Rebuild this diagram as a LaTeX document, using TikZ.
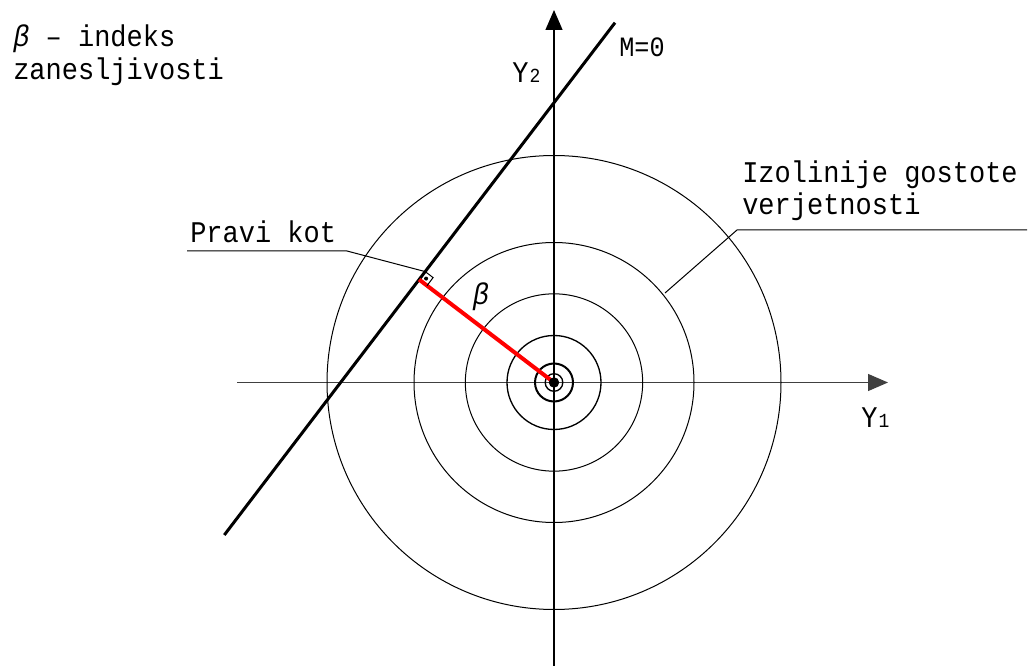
\documentclass[tikz,border=0pt]{standalone}
\usepackage{fontspec}
\setmainfont{Liberation Mono}
\usetikzlibrary{arrows.meta}
\newcommand{\narrowtxt}[1]{\scalebox{0.9}[1]{#1}}
\begin{document}
\begin{tikzpicture}[x=0.75pt,y=-0.75pt,
  lbl/.style={anchor=base west, inner sep=0pt, font=\fontsize{22.5}{26}\selectfont},
  axis/.style={line width=1pt, -{Triangle[length=15pt,width=12.75pt]}},
  iso/.style={line width=0.75pt},
  leader/.style={line width=0.75pt},
  limit/.style={line width=2.25pt},
  betaline/.style={line width=3pt, red}]
\useasboundingbox (0,0) rectangle (1032,666);
% named points
\coordinate (C) at (554,382.5);
\coordinate (Hl) at (237,382.5);
\coordinate (Hr) at (888,382.5);
\coordinate (Vb) at (554,666);
\coordinate (Vt) at (554,10);
\coordinate (Ma) at (224.3,535);
\coordinate (Mb) at (615,22.7);
\coordinate (F) at (419.1,279.6);
% axes
\draw[axis, black!75] (Hl) -- (Hr);
\draw[axis] (Vb) -- (Vt);
% isolines
\draw[iso] (C) circle[radius=170.25pt];
\draw[iso] (C) circle[radius=105pt];
\draw[iso] (C) circle[radius=66.5pt];
\draw[line width=1pt] (C) circle[radius=35.25pt];
\draw[line width=1.5pt] (C) circle[radius=14.25pt];
\draw[line width=1pt] (C) circle[radius=6.6pt];
% limit state line
\draw[limit] (Ma) -- (Mb);
% beta
\draw[betaline] (C) -- (F);
\fill (C) circle[radius=3.9pt];
% right angle mark
\coordinate (Q1) at (425.2,271.6);
\coordinate (Q2) at (433.1,277.6);
\coordinate (Q3) at (427.0,285.7);
\draw[line width=0.75pt] (Q1) -- (Q2) -- (Q3);
\fill (426.1,278.6) circle[radius=1.5pt];
% leaders
\coordinate (La) at (187,251);
\coordinate (Lb) at (347,251);
\draw[leader] (La) -- (Lb) -- (Q1);
\coordinate (Ra) at (1027,230);
\coordinate (Rb) at (737,230);
\coordinate (Rc) at (665,293);
\draw[leader] (Ra) -- (Rb) -- (Rc);
% labels
\node[lbl] (t1) at (13,47) {\narrowtxt{\itshape β\upshape{} – indeks}};
\node[lbl] (t2) at (13,80) {\narrowtxt{zanesljivosti}};
\node[lbl] (ty2) at (512,83) {\narrowtxt{Y\kern1pt{\fontsize{15}{16}\selectfont 2}}};
\node[lbl] (tm) at (619,57) {\narrowtxt{\fontsize{21}{24}\selectfont M=0}};
\node[lbl] (ti1) at (742,183) {\narrowtxt{Izolinije gostote}};
\node[lbl] (ti2) at (742,215) {\narrowtxt{verjetnosti}};
\node[lbl] (tp) at (190,243) {\narrowtxt{Pravi kot}};
\node[lbl] (ty1) at (861,428) {\narrowtxt{Y\kern1pt{\fontsize{15}{16}\selectfont 1}}};
\node[lbl, anchor=center] (tb) at (481,297) {\narrowtxt{\itshape β}};
\end{tikzpicture}
\end{document}
